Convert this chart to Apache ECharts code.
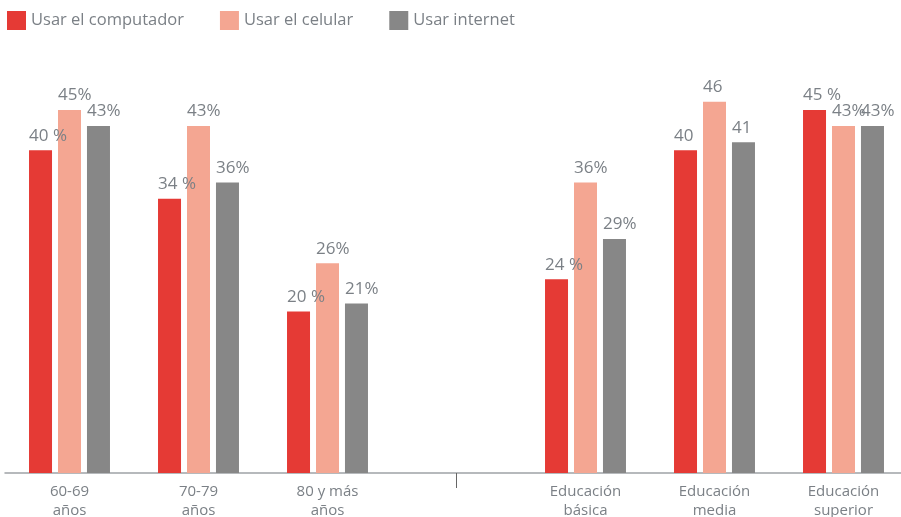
<!DOCTYPE html>
<html>
<head>
<meta charset="utf-8">
<script src="https://cdn.jsdelivr.net/npm/echarts@6/dist/echarts.min.js"></script>
<style>
  html, body { margin: 0; padding: 0; background: #fff; }
  #chart { width: 901px; height: 517px; }
</style>
</head>
<body>
<div id="chart"></div>
<script>
// categorias (la vacia separa edad de educacion)
const categories = ['60-69\naños', '70-79\naños', '80 y más\naños', '', 'Educación\nbásica', 'Educación\nmedia', 'Educación\nsuperior'];
const seriesNames = ['Usar el computador', 'Usar el celular', 'Usar internet'];

const computador = [40, 34, 20, null, 24, 40, 45];
const celular = [45, 43, 26, null, 36, 46, 43];
const internet = [43, 36, 21, null, 29, 41, 43];

// etiquetas tal como aparecen en el original
const computadorLabels = ['40 %', '34 %', '20 %', '', '24 %', '40', '45 %'];
const celularLabels = ['45%', '43%', '26%', '', '36%', '46', '43%'];
const internetLabels = ['43%', '36%', '21%', '', '29%', '41', '43%'];

const colors = ['#e53a35', '#f4a692', '#878787'];
const textColor = '#7b8086';
const fontFamily = 'Open Sans';
const barWidth = 23;

const chart = echarts.init(document.getElementById('chart'));

const makeSeries = (name, data, labels, color) => ({
  name,
  type: 'bar',
  data,
  barWidth,
  barGap: '26%',
  itemStyle: { color },
  label: {
    show: true,
    position: 'top',
    distance: 6,
    align: 'left',
    offset: [-barWidth / 2, 0],
    color: textColor,
    fontSize: 17,
    fontFamily,
    formatter: (p) => labels[p.dataIndex],
  },
});

chart.setOption({
  animation: false,
  color: colors,
  legend: {
    left: 7,
    top: 11,
    padding: 0,
    itemWidth: 19,
    itemHeight: 19,
    itemGap: 36,
    icon: 'rect',
    textStyle: { color: textColor, fontSize: 16.5, fontFamily },
    data: seriesNames,
  },
  grid: {
    left: 5,
    width: 903,
    top: 5,
    bottom: 44,
    containLabel: false,
    outerBoundsMode: 'none',
  },
  xAxis: {
    type: 'category',
    data: categories,
    axisLine: { lineStyle: { color: '#9ea2a6', width: 1.5 } },
    axisTick: {
      show: true,
      alignWithLabel: true,
      length: 15,
      interval: (i) => i === 3,
      lineStyle: { color: '#666' },
    },
    axisLabel: {
      color: textColor,
      fontSize: 15,
      fontFamily,
      lineHeight: 19,
      margin: 9,
      interval: 0,
    },
  },
  yAxis: {
    type: 'value',
    min: 0,
    max: 58,
    show: false,
    splitLine: { show: false },
  },
  series: [
    makeSeries(seriesNames[0], computador, computadorLabels, colors[0]),
    makeSeries(seriesNames[1], celular, celularLabels, colors[1]),
    makeSeries(seriesNames[2], internet, internetLabels, colors[2]),
  ],
});
</script>
</body>
</html>
